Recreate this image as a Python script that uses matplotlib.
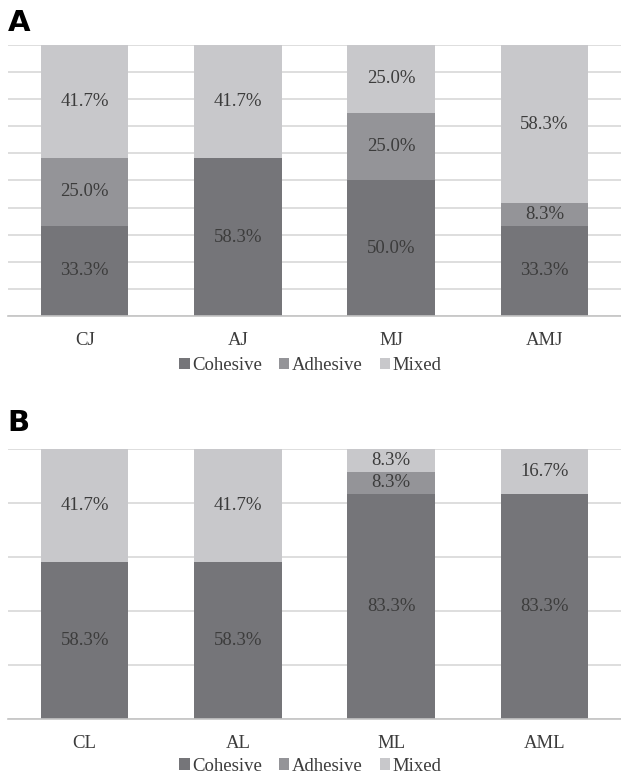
import matplotlib.pyplot as plt
from matplotlib.patches import Patch
import numpy as np

plt.rcParams['font.family'] = ['Liberation Serif', 'DejaVu Serif']

series = ['Cohesive', 'Adhesive', 'Mixed']
colors = ['#757579', '#949498', '#c8c8cb']

cats_a = ['CJ', 'AJ', 'MJ', 'AMJ']
cohesive_a = [33.3, 58.3, 50.0, 33.3]
adhesive_a = [25.0, 0.0, 25.0, 8.3]
mixed_a = [41.7, 41.7, 25.0, 58.3]

cats_b = ['CL', 'AL', 'ML', 'AML']
cohesive_b = [58.3, 58.3, 83.3, 83.3]
adhesive_b = [0.0, 0.0, 8.3, 0.0]
mixed_b = [41.7, 41.7, 8.3, 16.7]

fig = plt.figure(figsize=(6.21, 7.78), dpi=100)
ax_a = fig.add_axes([0.0129, 0.5938, 0.9871, 0.3484])
ax_b = fig.add_axes([0.0129, 0.0758, 0.9871, 0.3471])


def stacked(ax, cats, data, step, legend_y, tag, tag_y):
    x = np.arange(len(cats))
    bottom = np.zeros(len(cats))
    for vals, col in zip(data, colors):
        vals = np.array(vals)
        ax.bar(x, vals, bottom=bottom, width=0.57, color=col, zorder=2)
        for xi, b, v in zip(x, bottom, vals):
            if v > 0:
                ax.text(xi, b + v / 2, f'{v:.1f}%', ha='center', va='center',
                        fontsize=13.5, color='#3c3c3c', zorder=3)
        bottom += vals
    ax.set_xlim(-0.5, len(cats) - 0.5)
    ax.set_ylim(0, 100)
    ax.set_yticks(np.arange(0, 101, step))
    ax.yaxis.grid(True, color='#d4d4d4', linewidth=1.1, zorder=0)
    ax.set_axisbelow(True)
    ax.tick_params(axis='y', left=False, labelleft=False)
    ax.tick_params(axis='x', bottom=False, labelsize=13.5, colors='#3c3c3c', pad=8)
    ax.set_xticks(x)
    ax.set_xticklabels(cats)
    for s in ['top', 'right', 'left']:
        ax.spines[s].set_visible(False)
    ax.spines['bottom'].set_color('#c4c4c4')
    ax.spines['bottom'].set_linewidth(1.2)
    handles = [Patch(facecolor=c, label=s) for c, s in zip(colors, series)]
    fig.legend(handles=handles, loc='center', bbox_to_anchor=(0.5, legend_y), ncol=3,
               frameon=False, fontsize=13.5, handlelength=0.55, handleheight=0.55,
               handletextpad=0.15, columnspacing=0.9, labelcolor='#3c3c3c')
    fig.text(0.012, tag_y, tag, fontsize=21, fontweight='bold', family='DejaVu Sans',
             ha='left', va='center')


stacked(ax_a, cats_a, [cohesive_a, adhesive_a, mixed_a], 10, 0.5296, 'A', 0.971)
stacked(ax_b, cats_b, [cohesive_b, adhesive_b, mixed_b], 20, 0.0154, 'B', 0.456)

fig.savefig('out.png', dpi=100)
